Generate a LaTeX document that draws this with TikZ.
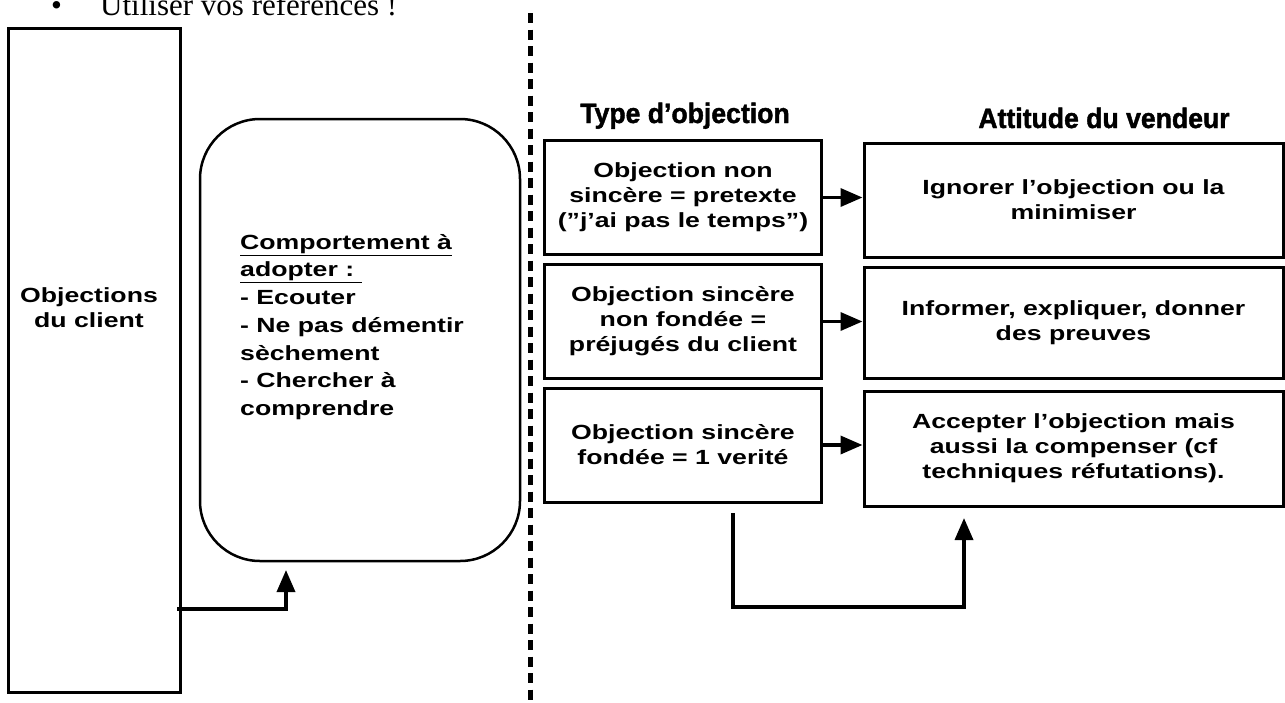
\documentclass[tikz,border=0pt]{standalone}
\usepackage{fontspec}
\usepackage{tikz}
\usetikzlibrary{arrows.meta}
\usetikzlibrary{positioning}
\newfontfamily\boxfont[FakeStretch=1.3]{Liberation Sans}
\newfontfamily\headfont[FakeStretch=0.95,FakeBold=1.5]{Liberation Sans}
\newfontfamily\notefont{Liberation Serif}

\begin{document}
\begin{tikzpicture}[
  x=1pt, y=-1pt,
  every node/.style={inner sep=0pt,font=\boxfont\bfseries\fontsize{20.5}{25}\selectfont},
  frame/.style={draw,line width=3pt,minimum width=277pt,minimum height=114pt,align=center},
  reply/.style={draw,line width=3pt,minimum width=419pt,minimum height=114pt,align=center},
  head/.style={anchor=base,font=\headfont\bfseries\fontsize{28}{32}\selectfont},
  link/.style={->,line width=3.5pt},
  split/.style={line width=5pt,dash pattern=on 10pt off 6.5pt},
]
\tikzset{>={Triangle[length=22pt,width=18pt]}}
\path[use as bounding box,clip] (0,0) rectangle (1285,702);
% line cut at the top
\node[anchor=base west,font=\notefont\fontsize{31}{36}\selectfont](puce) at(51,15){•};
\node[anchor=base west,font=\notefont\fontsize{31}{36}\selectfont](remind) at(100,15){Utiliser vos références !};
% left part
\node[draw,line width=3pt,minimum width=172pt,minimum height=664pt](client) at(94,360){};
\node[align=center](clienttxt) at(89,307.5){Objections\\du client};
\node[draw,line width=2.5pt,rounded corners=60pt,minimum width=320pt,minimum height=442pt](comport) at(360,340){};
\node[align=left,anchor=west,font=\boxfont\bfseries\fontsize{20.5}{27.7}\selectfont](comporttxt) at(240,327)
  {\underline{Comportement à}\\\underline{adopter :~}\\- Ecouter\\- Ne pas démentir\\sèchement\\- Chercher à\\comprendre};
\coordinate(lstart) at(177,609); \coordinate(ltip) at(286,570);
\draw[link](lstart) -| (ltip);
% separator
\coordinate(stop) at(530.5,13); \coordinate(sbot) at(530.5,702);
\draw[split](stop) -- (sbot);
% right part
\node[head](typehead) at(685,123){Type d’objection};
\node[head](atthead) at(1104,128){Attitude du vendeur};
\node[frame](ob1) at(683,197.5){Objection non\\sincère = pretexte\\(”j’ai pas le temps”)};
\node[frame](ob2) at(683,321.5){Objection sincère\\non fondée =\\préjugés du client};
\node[frame](ob3) at(683,445){Objection sincère\\fondée = 1 verité};
\node[reply](att1) at(1073.5,200){Ignorer l’objection ou la\\minimiser};
\node[reply,minimum height=111pt](att2) at(1073.5,322.5){Informer, expliquer, donner\\des preuves};
\node[reply,minimum height=115pt](att3) at(1073.5,448.5){Accepter l’objection mais\\aussi la compenser (cf\\techniques réfutations).};
\draw[link](ob1.east) -- (ob1.east -| att1.west);
\draw[link](ob2.east) -- (ob2.east -| att2.west);
\draw[link](ob3.east) -- (ob3.east -| att3.west);
\coordinate(rstart) at(733,513); \coordinate(rlow) at(733,607); \coordinate(rtip) at(964,518);
\draw[link](rstart) -- (rlow) -| (rtip);
\end{tikzpicture}
\end{document}
